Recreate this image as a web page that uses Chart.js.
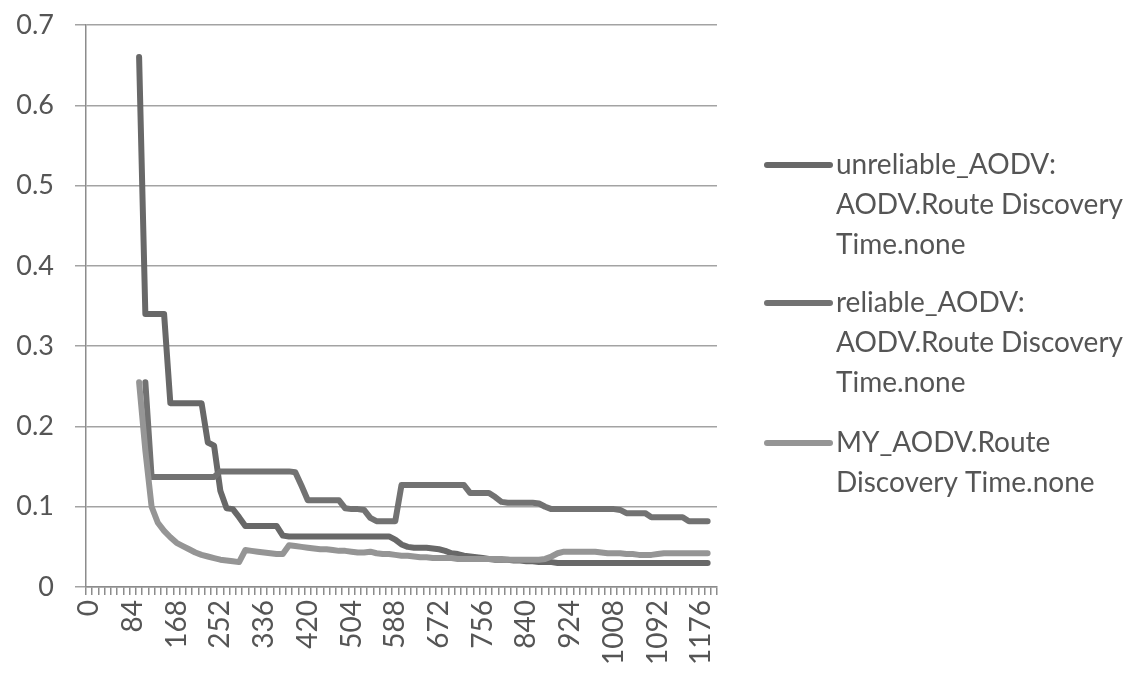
<!DOCTYPE html>
<html>
<head>
<meta charset="utf-8">
<script src="https://cdn.jsdelivr.net/npm/chart.js@4/dist/chart.umd.min.js"></script>
<style>
  html, body { margin: 0; padding: 0; background: #fff; }
  #wrap { width: 1147px; height: 677px; }
</style>
</head>
<body>
<div id="wrap"><canvas id="chart" width="1147" height="677"></canvas></div>
<script>
// time axis categories (step 12)
const categories = [
  0, 12, 24, 36, 48, 60, 72, 84, 96, 108, 120, 132, 144, 156, 168, 180, 192, 204, 216, 228,
  240, 252, 264, 276, 288, 300, 312, 324, 336, 348, 360, 372, 384, 396, 408, 420, 432, 444, 456, 468,
  480, 492, 504, 516, 528, 540, 552, 564, 576, 588, 600, 612, 624, 636, 648, 660, 672, 684, 696, 708,
  720, 732, 744, 756, 768, 780, 792, 804, 816, 828, 840, 852, 864, 876, 888, 900, 912, 924, 936, 948,
  960, 972, 984, 996, 1008, 1020, 1032, 1044, 1056, 1068, 1080, 1092, 1104, 1116, 1128, 1140, 1152, 1164, 1176, 1188,
  1200
];
const labelEvery = 7; // a label every 84

const seriesNames = [
  ["unreliable_AODV:", "AODV.Route Discovery", "Time.none"],
  ["reliable_AODV:", "AODV.Route Discovery", "Time.none"],
  ["MY_AODV.Route", "Discovery Time.none"]
];

const unreliable = [
  null, null, null, null, null, null, null, null,
  0.66, 0.34, 0.34, 0.34, 0.34,
  0.229, 0.229, 0.229, 0.229, 0.229, 0.229,
  0.18, 0.176, 0.12, 0.098, 0.097, 0.087,
  0.076, 0.076, 0.076, 0.076, 0.076, 0.076,
  0.064, 0.063, 0.063, 0.063, 0.063, 0.063, 0.063, 0.063, 0.063, 0.063, 0.063, 0.063, 0.063, 0.063, 0.063, 0.063, 0.063, 0.063,
  0.059, 0.053, 0.05,
  0.049, 0.049, 0.049, 0.048,
  0.047, 0.045, 0.042, 0.041, 0.039, 0.038, 0.037, 0.036,
  0.035, 0.034, 0.034, 0.034, 0.033, 0.033,
  0.032, 0.032, 0.031, 0.031, 0.031, 0.03,
  0.03, 0.03, 0.03, 0.03, 0.03, 0.03, 0.03, 0.03, 0.03, 0.03, 0.03, 0.03,
  0.03, 0.03, 0.03, 0.03, 0.03, 0.03, 0.03, 0.03, 0.03, 0.03, 0.03, 0.03,
  null
];

const reliable = [
  null, null, null, null, null, null, null, null, null,
  0.255,
  0.137, 0.137, 0.137, 0.137, 0.137, 0.137, 0.137, 0.137, 0.137, 0.137, 0.137,
  0.144, 0.144, 0.144, 0.144, 0.144, 0.144, 0.144, 0.144, 0.144, 0.144, 0.144, 0.144,
  0.143, 0.126,
  0.108, 0.108, 0.108, 0.108, 0.108, 0.108,
  0.098, 0.097, 0.097, 0.096, 0.086,
  0.082, 0.082, 0.082, 0.082,
  0.127, 0.127, 0.127, 0.127, 0.127, 0.127, 0.127, 0.127, 0.127, 0.127, 0.127,
  0.117, 0.117, 0.117, 0.117,
  0.112, 0.106,
  0.105, 0.105, 0.105, 0.105, 0.105,
  0.104, 0.1,
  0.097, 0.097, 0.097, 0.097, 0.097, 0.097, 0.097, 0.097, 0.097, 0.097, 0.097, 0.096,
  0.092, 0.092, 0.092, 0.092,
  0.087, 0.087, 0.087, 0.087, 0.087, 0.087,
  0.082, 0.082, 0.082, 0.082,
  null
];

const myAodv = [
  null, null, null, null, null, null, null, null,
  0.255, 0.17, 0.1, 0.08, 0.07, 0.062, 0.055, 0.051, 0.047, 0.043,
  0.04, 0.038, 0.036, 0.034, 0.033, 0.032, 0.031,
  0.046, 0.045, 0.044, 0.043, 0.042, 0.041, 0.041,
  0.052, 0.051, 0.05, 0.049, 0.048, 0.047, 0.047, 0.046, 0.045, 0.045, 0.044, 0.043, 0.043,
  0.044, 0.042, 0.041, 0.041, 0.04, 0.039, 0.039, 0.038, 0.037, 0.037, 0.036, 0.036, 0.036, 0.036, 0.035, 0.035,
  0.035, 0.035, 0.035, 0.035, 0.035, 0.035, 0.034, 0.034, 0.034, 0.034, 0.034, 0.034,
  0.035, 0.038, 0.042, 0.044,
  0.044, 0.044, 0.044, 0.044, 0.044, 0.043,
  0.042,
  0.042, 0.042, 0.041, 0.041,
  0.04,
  0.04, 0.04, 0.041,
  0.042, 0.042, 0.042, 0.042, 0.042, 0.042, 0.042, 0.042,
  null
];

const yTicks = [0, 0.1, 0.2, 0.3, 0.4, 0.5, 0.6, 0.7];

const textColor = "#555555";
const gridColor = "#a3a3a3";
const fontFamily = "Lato, 'Open Sans', sans-serif";
const lineColors = ["#686868", "#727272", "#959595"];

// legend drawn by hand so the labels can wrap like the original
const sideLegend = {
  id: "sideLegend",
  afterDraw(chart) {
    const ctx = chart.ctx;
    const blocks = [165, 303, 443];
    ctx.save();
    ctx.font = "28px " + fontFamily;
    ctx.textBaseline = "middle";
    ctx.fillStyle = textColor;
    chart.data.datasets.forEach((ds, k) => {
      const y0 = blocks[k];
      ctx.strokeStyle = ds.borderColor;
      ctx.lineWidth = 6;
      ctx.lineCap = "round";
      ctx.beginPath();
      ctx.moveTo(767, y0);
      ctx.lineTo(830, y0);
      ctx.stroke();
      seriesNames[k].forEach((line, j) => {
        ctx.fillText(line, 836, y0 + j * 40);
      });
    });
    ctx.restore();
  }
};

new Chart(document.getElementById("chart"), {
  type: "line",
  data: {
    labels: categories,
    datasets: [
      { label: seriesNames[0].join(" "), data: unreliable, borderColor: lineColors[0] },
      { label: seriesNames[1].join(" "), data: reliable, borderColor: lineColors[1] },
      { label: seriesNames[2].join(" "), data: myAodv, borderColor: lineColors[2] }
    ].map((d, i) => Object.assign(d, {
      borderWidth: 6,
      pointRadius: 0,
      tension: 0,
      fill: false,
      spanGaps: false,
      borderJoinStyle: "round",
      borderCapStyle: "round",
      order: 3 - i
    }))
  },
  options: {
    responsive: false,
    animation: false,
    devicePixelRatio: 1,
    layout: { padding: { top: 25, right: 430, left: 0, bottom: 0 } },
    plugins: {
      legend: { display: false },
      tooltip: { enabled: false }
    },
    scales: {
      x: {
        type: "category",
        offset: true,
        grid: {
          display: true,
          offset: true,
          drawOnChartArea: false,
          drawTicks: true,
          tickLength: 8,
          color: "#8c8c8c",
          lineWidth: 1.5
        },
        border: { display: true, color: "#8c8c8c", width: 1.5 },
        ticks: {
          autoSkip: false,
          maxRotation: 90,
          minRotation: 90,
          padding: 5,
          color: textColor,
          font: { family: fontFamily, size: 28 },
          callback: function (v, i) {
            return i % labelEvery === 0 ? String(categories[i]) : "";
          }
        },
        afterFit: (s) => { s.height = 90; }
      },
      y: {
        min: yTicks[0],
        max: yTicks[yTicks.length - 1],
        afterBuildTicks: (s) => { s.ticks = yTicks.map((v) => ({ value: v })); },
        grid: {
          color: gridColor,
          lineWidth: 1.5,
          drawTicks: true,
          tickLength: 11
        },
        border: { display: true, color: "#8c8c8c", width: 1.5 },
        ticks: {
          padding: 21,
          color: textColor,
          font: { family: fontFamily, size: 27 },
          callback: (v) => String(+Number(v).toFixed(1))
        },
        afterFit: (s) => {
          s.width = 86;
          s.paddingTop = 0;
          s.paddingBottom = 0;
        }
      }
    }
  },
  plugins: [sideLegend]
});
</script>
</body>
</html>
